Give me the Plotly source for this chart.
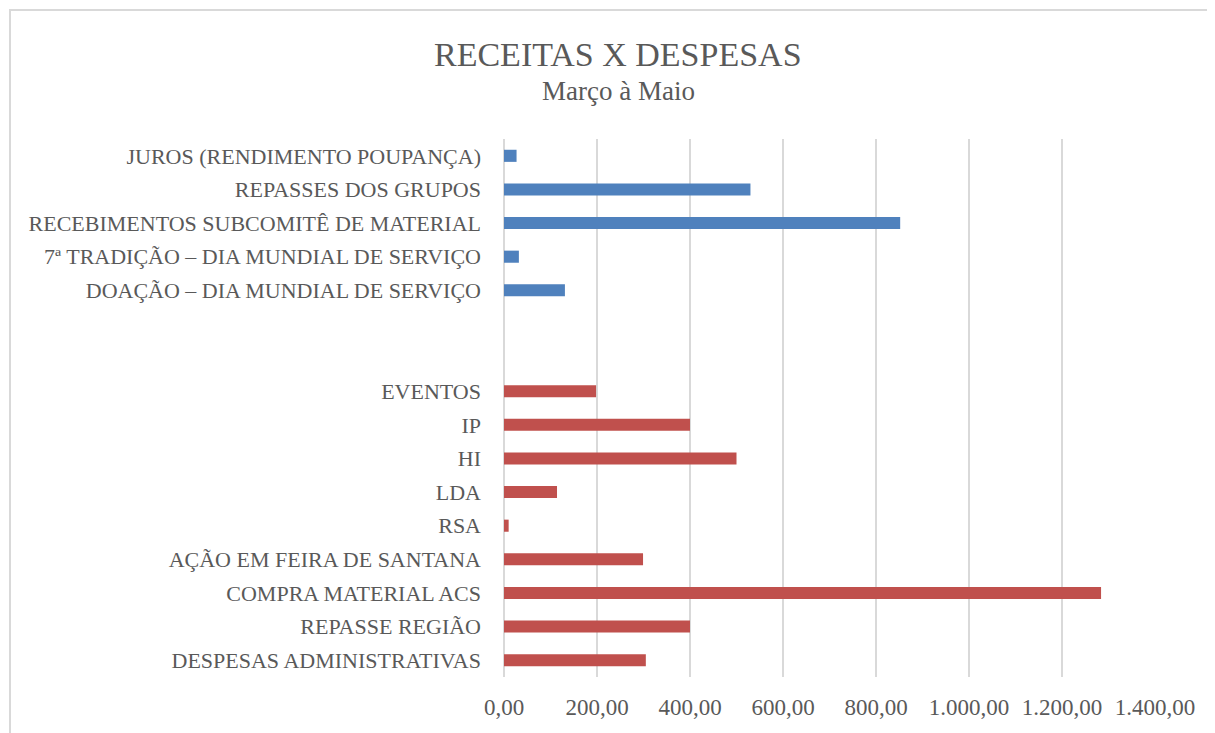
import plotly.graph_objects as go

# Data (top to bottom as displayed)
receitas_labels = ["JUROS (RENDIMENTO POUPANÇA)", "REPASSES DOS GRUPOS",
                   "RECEBIMENTOS SUBCOMITÊ DE MATERIAL",
                   "7ª TRADIÇÃO – DIA MUNDIAL DE SERVIÇO",
                   "DOAÇÃO – DIA MUNDIAL DE SERVIÇO"]
receitas_values = [27, 530, 852, 32, 131]

despesas_labels = ["EVENTOS", "IP", "HI", "LDA", "RSA", "AÇÃO EM FEIRA DE SANTANA",
                   "COMPRA MATERIAL ACS", "REPASSE REGIÃO", "DESPESAS ADMINISTRATIVAS"]
despesas_values = [198, 400, 500, 114, 10, 299, 1284, 400, 305]

blank_labels = [" ", "  "]

x_tickvals = [0, 200, 400, 600, 800, 1000, 1200, 1400]
x_ticktext = ["0,00", "200,00", "400,00", "600,00", "800,00", "1.000,00", "1.200,00", "1.400,00"]

BLUE = "#4F81BD"
RED = "#C0504D"
TEXT = "#595959"
GRID = "#D9D9D9"
FONT = "Liberation Serif"

categories = receitas_labels + blank_labels + despesas_labels

fig = go.Figure()
fig.add_trace(go.Bar(
    y=receitas_labels, x=receitas_values, orientation="h",
    marker=dict(color=BLUE, line=dict(width=0)), width=0.36, showlegend=False,
    hoverinfo="x+y"))
fig.add_trace(go.Bar(
    y=despesas_labels, x=despesas_values, orientation="h",
    marker=dict(color=RED, line=dict(width=0)), width=0.36, showlegend=False,
    hoverinfo="x+y"))

# page body has an 8px margin; figure coordinates are relative to the figure
OFF = 8
W, H = 1215 - OFF, 733 - OFF
L, R, T, B = 504 - OFF, 60, 139 - OFF, 56
pw, ph = W - L - R, H - T - B

def px_to_paper_x(px):  # px in page coordinates
    return (px - OFF - L) / pw

def px_to_paper_y(py):
    return (H - B - (py - OFF)) / ph

fig.update_layout(
    width=W, height=H,
    margin=dict(l=L, r=R, t=T, b=B),
    paper_bgcolor="white", plot_bgcolor="white",
    font=dict(family=FONT, color=TEXT, size=22),
    barmode="overlay",
    xaxis=dict(range=[0, 1400], tickvals=x_tickvals, ticktext=x_ticktext,
               showgrid=True, gridcolor=GRID, gridwidth=2,
               zeroline=True, zerolinecolor=GRID, zerolinewidth=2,
               showline=False, ticks="", ticklabelstandoff=14,
               tickfont=dict(family=FONT, size=23, color=TEXT), fixedrange=True),
    yaxis=dict(type="category", categoryorder="array", categoryarray=categories,
               range=[len(categories) - 0.5, -0.5],
               showgrid=False, zeroline=False, showline=False, ticks="",
               ticklabelstandoff=22,
               tickfont=dict(family=FONT, size=22, color=TEXT), fixedrange=True),
    annotations=[
        dict(text="RECEITAS X DESPESAS", xref="paper", yref="paper",
             x=px_to_paper_x(618), y=px_to_paper_y(54), xanchor="center", yanchor="middle",
             showarrow=False, font=dict(family=FONT, size=34, color=TEXT)),
        dict(text="Março à Maio", xref="paper", yref="paper",
             x=px_to_paper_x(618), y=px_to_paper_y(91), xanchor="center", yanchor="middle",
             showarrow=False, font=dict(family=FONT, size=27, color=TEXT)),
    ],
    shapes=[
        dict(type="rect", xref="paper", yref="paper",
             x0=px_to_paper_x(10), x1=px_to_paper_x(1215 + 20),
             y0=px_to_paper_y(733 + 20), y1=px_to_paper_y(10),
             line=dict(color=GRID, width=2), fillcolor="rgba(0,0,0,0)", layer="below"),
    ],
)

fig.write_html("out.html")
